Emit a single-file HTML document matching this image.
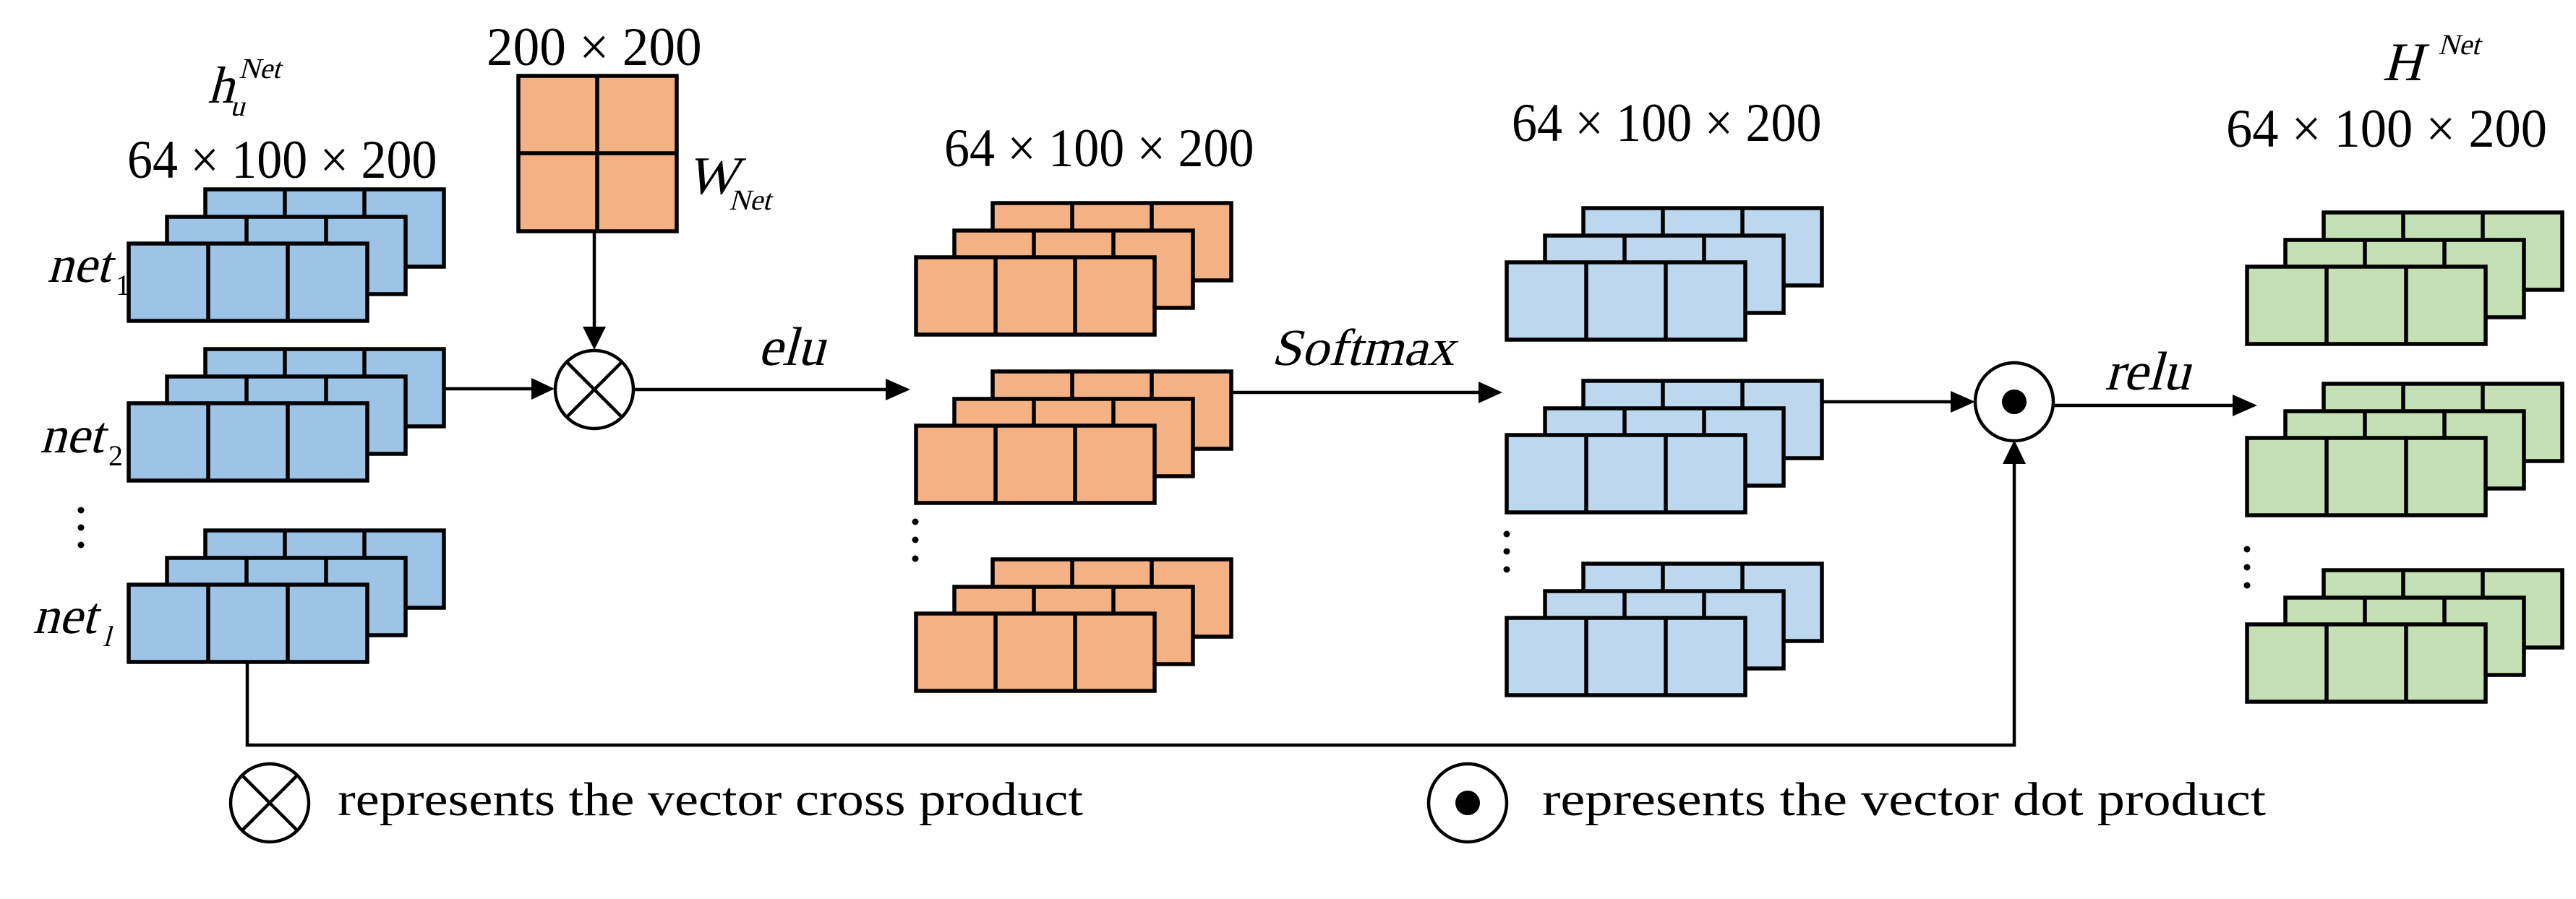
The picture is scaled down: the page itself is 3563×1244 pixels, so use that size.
<!DOCTYPE html>
<html><head><meta charset="utf-8"><style>
html,body{margin:0;padding:0;background:#fff;}
svg{display:block;}
</style></head><body>
<svg width="3563" height="1244" viewBox="0 0 3563 1244" xmlns="http://www.w3.org/2000/svg" font-family="'Liberation Serif',serif">
<defs>
<g id="stk" stroke="#000" stroke-width="5.5">
  <rect x="106" y="-75" width="330" height="107"/>
  <line x1="216" y1="-75" x2="216" y2="32"/><line x1="326" y1="-75" x2="326" y2="32"/>
  <rect x="53" y="-37" width="330" height="107"/>
  <line x1="163" y1="-37" x2="163" y2="70"/><line x1="273" y1="-37" x2="273" y2="70"/>
  <rect x="0" y="0" width="330" height="107"/>
  <line x1="110" y1="0" x2="110" y2="107"/><line x1="220" y1="0" x2="220" y2="107"/>
</g>
</defs>

<g fill="#9DC3E6">
<use href="#stk" x="178" y="337"/><use href="#stk" x="178" y="558"/><use href="#stk" x="178" y="809"/>
</g>
<g fill="#F4B183">
<use href="#stk" x="1267" y="356"/><use href="#stk" x="1267" y="589"/><use href="#stk" x="1267" y="849"/>
</g>
<g fill="#BDD7EE">
<use href="#stk" x="2084" y="363"/><use href="#stk" x="2084" y="602"/><use href="#stk" x="2084" y="855"/>
</g>
<g fill="#C5E0B4">
<use href="#stk" x="3108" y="369"/><use href="#stk" x="3108" y="606"/><use href="#stk" x="3108" y="864"/>
</g>

<rect x="717" y="105" width="219" height="215" fill="#F4B183" stroke="#000" stroke-width="5.5"/>
<line x1="826" y1="105" x2="826" y2="320" stroke="#000" stroke-width="5.5"/>
<line x1="717" y1="212" x2="936" y2="212" stroke="#000" stroke-width="5.5"/>

<g stroke="#000" stroke-width="4.5" fill="none">
<line x1="822" y1="320" x2="822" y2="452"/>
<line x1="614" y1="538" x2="735" y2="538"/>
<line x1="877" y1="539" x2="1225" y2="539"/>
<line x1="1705" y1="543" x2="2045" y2="543"/>
<line x1="2519" y1="556" x2="2698" y2="556"/>
<line x1="2841" y1="561" x2="3088" y2="561"/>
<polyline points="342,916 342,1031 2786,1031 2786,642"/>
<circle cx="822" cy="539" r="54"/>
<line x1="784" y1="501" x2="860" y2="577"/><line x1="860" y1="501" x2="784" y2="577"/>
<circle cx="2786" cy="556" r="54"/>
<circle cx="373" cy="1111" r="54"/>
<line x1="335" y1="1073" x2="411" y2="1149"/><line x1="411" y1="1073" x2="335" y2="1149"/>
<circle cx="2030" cy="1111" r="54"/>
</g>
<circle cx="2786" cy="556" r="17" fill="#000"/>
<circle cx="2030" cy="1111" r="17" fill="#000"/>
<g fill="#000">
<polygon points="806,452 838,452 822,484"/>
<polygon points="735,523 735,553 767,538"/>
<polygon points="1225,524 1225,554 1259,539"/>
<polygon points="2045,528 2045,558 2078,543"/>
<polygon points="2698,541 2698,571 2732,556"/>
<polygon points="3088,546 3088,576 3122,561"/>
<polygon points="2770,642 2802,642 2786,609"/>
</g>
<g fill="#000">
<circle cx="112" cy="706" r="4.5"/><circle cx="112" cy="730" r="4.5"/><circle cx="112" cy="754" r="4.5"/>
<circle cx="1266" cy="722" r="4.5"/><circle cx="1266" cy="747" r="4.5"/><circle cx="1266" cy="773" r="4.5"/>
<circle cx="2084" cy="739" r="4.5"/><circle cx="2084" cy="763" r="4.5"/><circle cx="2084" cy="788" r="4.5"/>
<circle cx="3108" cy="760" r="4.5"/><circle cx="3108" cy="785" r="4.5"/><circle cx="3108" cy="810" r="4.5"/>
</g>

<g font-family="'Liberation Serif',serif" fill="#000">
<text transform="translate(287,142) skewX(-15) scale(1.2)" font-size="60">h</text>
<text transform="translate(318,160) skewX(-15)" font-size="40">u</text>
<text transform="translate(330,108) skewX(-15)" font-size="40">Net</text>
<text transform="translate(176,246) scale(1.2)" font-size="63" textLength="357" lengthAdjust="spacingAndGlyphs">64 × 100 × 200</text>
<text transform="translate(673,90) scale(1.2)" font-size="63" textLength="248" lengthAdjust="spacingAndGlyphs">200 × 200</text>
<text transform="translate(949,268) skewX(-15) scale(1.2)" font-size="62">W</text>
<text transform="translate(1008,290) skewX(-15)" font-size="40">Net</text>
<text transform="translate(65,390) skewX(-15) scale(1.2)" font-size="60">net</text><text x="160" y="408" font-size="40">1</text>
<text transform="translate(55,626) skewX(-15) scale(1.2)" font-size="60">net</text><text x="150" y="644" font-size="40">2</text>
<text transform="translate(45,876) skewX(-15) scale(1.2)" font-size="60">net</text><text transform="translate(142,894) skewX(-15)" font-size="40">l</text>
<text transform="translate(1048,505) skewX(-15) scale(1.2)" font-size="63">elu</text>
<text transform="translate(1306,230) scale(1.2)" font-size="63" textLength="357" lengthAdjust="spacingAndGlyphs">64 × 100 × 200</text>
<text transform="translate(1758,505) skewX(-15) scale(1.2)" font-size="60" textLength="211" lengthAdjust="spacingAndGlyphs">Softmax</text>
<text transform="translate(2091,195) scale(1.2)" font-size="63" textLength="357" lengthAdjust="spacingAndGlyphs">64 × 100 × 200</text>
<text transform="translate(2911,539) skewX(-15) scale(1.2)" font-size="63">relu</text>
<text transform="translate(3295,111) skewX(-15) scale(1.2)" font-size="63">H</text>
<text transform="translate(3372,75) skewX(-15)" font-size="40">Net</text>
<text transform="translate(3079,203) scale(1.2)" font-size="63" textLength="370" lengthAdjust="spacingAndGlyphs">64 × 100 × 200</text>
<text x="467" y="1128" font-size="66" textLength="1031" lengthAdjust="spacingAndGlyphs">represents the vector cross product</text>
<text x="2133" y="1128" font-size="66" textLength="1001" lengthAdjust="spacingAndGlyphs">represents the vector dot product</text>
</g>
</svg>
</body></html>
